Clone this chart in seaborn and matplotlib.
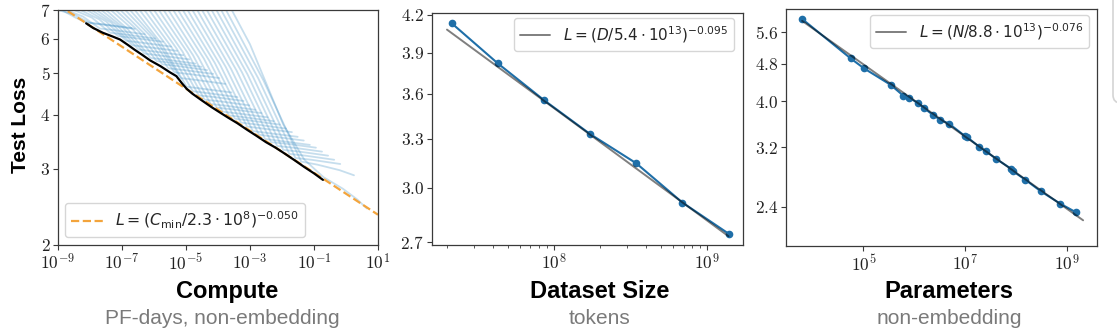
import matplotlib
matplotlib.use("Agg")
import matplotlib.pyplot as plt
import numpy as np
import pandas as pd
import seaborn as sns
from matplotlib.ticker import NullLocator, NullFormatter
from matplotlib.patches import FancyBboxPatch

# ---------------- data ----------------
# Panel 1: learning curves, log10(compute in PF-days) vs test loss
curve_logC = [
    [-9.3, -8.7, -8.45, -8.12, -7.6, -6.7],
    [-9.25, -9.0, -8.5, -8.0, -7.5, -6.6],
    [-9.0, -8.75, -8.22, -7.69, -7.19, -6.29],
    [-8.75, -8.5, -7.94, -7.37, -6.87, -5.97],
    [-8.55, -8.3, -7.71, -7.12, -6.62, -5.72],
    [-8.35, -8.1, -7.49, -6.87, -6.37, -5.47],
    [-8.2, -7.95, -7.32, -6.68, -6.18, -5.28],
    [-8.05, -7.8, -7.15, -6.49, -5.99, -5.09],
    [-7.9, -7.65, -6.98, -6.30, -5.80, -4.90],
    [-7.75, -7.5, -6.81, -6.11, -5.61, -4.71],
    [-7.6, -7.35, -6.64, -5.92, -5.42, -4.52],
    [-7.45, -7.2, -6.47, -5.74, -5.24, -4.34],
    [-7.3, -7.05, -6.30, -5.55, -5.05, -4.15],
    [-7.15, -6.9, -6.13, -5.36, -4.86, -3.96],
    [-7.0, -6.75, -5.96, -5.17, -4.67, -3.77],
    [-6.85, -6.6, -5.79, -4.98, -4.48, -3.58],
    [-6.7, -6.45, -5.62, -4.79, -4.29, -3.39],
    [-6.55, -6.3, -5.45, -4.60, -4.10, -3.20],
    [-6.4, -6.15, -5.28, -4.42, -3.92, -3.02],
    [-6.25, -6.0, -5.11, -4.23, -3.73, -2.83],
    [-6.1, -5.85, -4.94, -4.04, -3.54, -2.64],
    [-5.95, -5.7, -4.78, -3.85, -3.35, -2.45],
    [-5.8, -5.55, -4.61, -3.66, -3.16, -2.26],
    [-5.65, -5.4, -4.44, -3.47, -2.97, -2.07],
    [-5.5, -5.25, -4.27, -3.28, -2.78, -1.88],
    [-5.35, -5.1, -4.10, -3.09, -2.59, -1.69],
    [-5.2, -4.95, -3.93, -2.91, -2.41, -1.51],
    [-5.05, -4.8, -3.76, -2.72, -2.22, -1.32],
    [-4.9, -4.65, -3.59, -2.53, -2.03, -1.13],
    [-4.75, -4.5, -3.42, -2.34, -1.84, -0.94],
    [-4.6, -4.35, -3.25, -2.15, -1.65, -0.75],
    [-4.45, -4.2, -3.08, -1.96, -1.46, -0.56],
    [-4.3, -4.05, -2.91, -1.77, -1.27, -0.37],
    [-4.15, -3.9, -2.74, -1.58, -1.08, -0.18],
    [-4.0, -3.75, -2.58, -1.40, -0.9, -0.2, 0.25],
    [-3.82, -3.57, -3.0, -2.48, -1.96, -1.3, -0.7, -0.1, 0.35, 0.65],
]
curve_loss = [
    [7.3, 6.88, 6.72, 6.55, 6.49, 6.36],
    [7.25, 7.0, 6.83, 6.53, 6.46, 6.33],
    [7.3, 7.0, 6.76, 6.34, 6.28, 6.15],
    [7.4, 7.0, 6.72, 6.20, 6.14, 6.01],
    [7.45, 7.0, 6.66, 6.09, 6.03, 5.91],
    [7.5, 7.0, 6.58, 5.94, 5.88, 5.76],
    [7.5, 7.0, 6.53, 5.80, 5.74, 5.63],
    [7.5, 7.0, 6.46, 5.67, 5.61, 5.50],
    [7.5, 7.0, 6.39, 5.55, 5.49, 5.38],
    [7.5, 7.0, 6.31, 5.42, 5.37, 5.26],
    [7.5, 7.0, 6.29, 5.33, 5.28, 5.17],
    [7.5, 7.0, 6.24, 5.24, 5.19, 5.08],
    [7.5, 7.0, 6.17, 5.13, 5.08, 4.98],
    [7.5, 7.0, 6.11, 5.02, 4.97, 4.87],
    [7.5, 7.0, 6.01, 4.87, 4.82, 4.72],
    [7.5, 7.0, 5.88, 4.65, 4.60, 4.51],
    [7.5, 7.0, 5.81, 4.54, 4.49, 4.40],
    [7.5, 7.0, 5.74, 4.44, 4.40, 4.31],
    [7.5, 7.0, 5.68, 4.34, 4.30, 4.21],
    [7.5, 7.0, 5.61, 4.24, 4.20, 4.11],
    [7.5, 7.0, 5.56, 4.16, 4.12, 4.04],
    [7.5, 7.0, 5.50, 4.07, 4.03, 3.95],
    [7.5, 7.0, 5.44, 3.99, 3.95, 3.87],
    [7.5, 7.0, 5.40, 3.92, 3.88, 3.80],
    [7.5, 7.0, 5.34, 3.84, 3.80, 3.72],
    [7.5, 7.0, 5.28, 3.76, 3.72, 3.65],
    [7.5, 7.0, 5.22, 3.67, 3.63, 3.56],
    [7.5, 7.0, 5.17, 3.60, 3.56, 3.49],
    [7.5, 7.0, 5.11, 3.52, 3.48, 3.41],
    [7.5, 7.0, 5.07, 3.46, 3.43, 3.36],
    [7.5, 7.0, 5.02, 3.39, 3.36, 3.29],
    [7.5, 7.0, 4.97, 3.32, 3.29, 3.22],
    [7.5, 7.0, 4.91, 3.25, 3.22, 3.15],
    [7.5, 7.0, 4.86, 3.18, 3.15, 3.08],
    [7.5, 7.0, 4.81, 3.12, 3.07, 2.98, 2.90],
    [7.5, 7.0, 5.83, 4.71, 3.80, 3.15, 2.87, 2.70, 2.55, 2.43],
]
frontier_logC = [-8.12, -7.9, -7.6, -7.3, -7.06, -6.8, -6.6, -6.35, -6.12, -5.8,
                 -5.5, -5.3, -5.13, -4.98, -4.8, -4.5, -4.2, -4.0, -3.7, -3.4,
                 -3.1, -2.8, -2.5, -2.2, -1.9, -1.6, -1.3, -1.0, -0.72]
frontier_loss = [6.52, 6.36, 6.20, 6.08, 5.98, 5.80, 5.66, 5.50, 5.35, 5.19,
                 5.02, 4.92, 4.74, 4.60, 4.48, 4.32, 4.17, 4.08, 3.95, 3.83,
                 3.70, 3.58, 3.46, 3.36, 3.25, 3.14, 3.03, 2.93, 2.83]
fitC_logC = [-9.0, 1.0]
fitC_loss = [7.2, 2.35]

# Panel 2: dataset size
dataset_tokens = [2.15e7, 4.3e7, 8.6e7, 1.72e8, 3.44e8, 6.88e8, 1.376e9]
dataset_loss = [4.13, 3.82, 3.557, 3.33, 3.146, 2.915, 2.744]
fitD_tokens = [2.0e7, 1.376e9]
fitD_loss = [4.08, 2.73]

# Panel 3: parameters
param_logN = [3.804, 4.753, 5.014, 5.537, 5.784, 5.902, 6.078, 6.190, 6.373, 6.504,
              6.680, 6.994, 7.039, 7.275, 7.406, 7.602, 7.890, 7.941, 8.171, 8.478,
              8.857, 9.165]
param_loss = [5.95, 4.92, 4.69, 4.33, 4.11, 4.07, 3.96, 3.87, 3.74, 3.66,
              3.59, 3.38, 3.36, 3.21, 3.14, 3.03, 2.89, 2.85, 2.74, 2.59,
              2.44, 2.34]
fitN_logN = [3.80, 9.31]
fitN_loss = [5.90, 2.25]

titles = ["Compute", "Dataset Size", "Parameters"]
subtitles = ["PF-days, non-embedding", "tokens", "non-embedding"]
legend_texts = [r"$L = (C_{\rm min}/2.3\cdot 10^{8})^{-0.050}$",
                r"$L = (D/5.4\cdot 10^{13})^{-0.095}$",
                r"$L = (N/8.8\cdot 10^{13})^{-0.076}$"]

# ---------------- style ----------------
sns.set_style("ticks")
plt.rcParams["font.family"] = ["Liberation Sans", "DejaVu Sans"]

BLUE = "#1f6fa8"
SPINE = "#3a3a3a"

fig = plt.figure(figsize=(11.17, 3.35), dpi=100)
ax1 = fig.add_axes([0.0519, 0.2687, 0.2865, 0.7015])
ax2 = fig.add_axes([0.3865, 0.2687, 0.2790, 0.6925])
ax3 = fig.add_axes([0.7037, 0.2666, 0.2781, 0.7056])

for ax in (ax1, ax2, ax3):
    ax.set_xscale("log")
    ax.set_yscale("log")

# ---- panel 1 ----
rows = []
for i, (xs, ys) in enumerate(zip(curve_logC, curve_loss)):
    for x, y in zip(xs, ys):
        rows.append({"curve": i, "C": 10.0 ** x, "loss": y})
df_curves = pd.DataFrame(rows)
sns.lineplot(data=df_curves, x="C", y="loss", units="curve", estimator=None,
             sort=False, color="#2f86c0", alpha=0.27, lw=1.3, ax=ax1)
sns.lineplot(x=[10.0 ** v for v in fitC_logC], y=fitC_loss, color="#f3a43c",
             linestyle="--", lw=1.6, sort=False, ax=ax1)
h_orange = ax1.get_lines()[-1]
sns.lineplot(x=[10.0 ** v for v in frontier_logC], y=frontier_loss, color="black",
             lw=1.6, sort=False, ax=ax1)
ax1.set_xlim(1e-9, 1e1)
ax1.set_ylim(2, 7)
xt = [1e-9, 1e-7, 1e-5, 1e-3, 1e-1, 1e1]
ax1.set_xticks(xt)
ax1.set_xticklabels([r"$10^{-9}$", r"$10^{-7}$", r"$10^{-5}$", r"$10^{-3}$",
                     r"$10^{-1}$", r"$10^{1}$"])
yt = [2, 3, 4, 5, 6, 7]
ax1.set_yticks(yt)
ax1.set_yticklabels([f"${v}$" for v in yt])
ax1.legend([h_orange], [legend_texts[0]], loc="lower left",
           bbox_to_anchor=(0.022, 0.034), borderaxespad=0, fontsize=11.3)

# ---- panel 2 ----
sns.lineplot(x=dataset_tokens, y=dataset_loss, color=BLUE, lw=1.5, marker="o",
             markersize=5.5, markeredgewidth=0, sort=False, ax=ax2)
sns.lineplot(x=fitD_tokens, y=fitD_loss, color="black", alpha=0.5, lw=1.4,
             sort=False, ax=ax2)
h2 = ax2.get_lines()[-1]
ax2.set_xlim(1.59e7, 1.72e9)
ax2.set_ylim(2.684, 4.214)
ax2.set_xticks([1e8, 1e9])
ax2.set_xticklabels([r"$10^{8}$", r"$10^{9}$"])
yt2 = [2.7, 3.0, 3.3, 3.6, 3.9, 4.2]
ax2.set_yticks(yt2)
ax2.set_yticklabels([f"${v:.1f}$" for v in yt2])
ax2.legend([h2], [legend_texts[1]], loc="upper right",
           bbox_to_anchor=(0.970, 0.978), borderaxespad=0, fontsize=11)

# ---- panel 3 ----
sns.lineplot(x=[10.0 ** v for v in param_logN], y=param_loss, color=BLUE, lw=1.5,
             marker="o", markersize=5.5, markeredgewidth=0, sort=False, ax=ax3)
sns.lineplot(x=[10.0 ** v for v in fitN_logN], y=fitN_loss, color="black",
             alpha=0.5, lw=1.4, sort=False, ax=ax3)
h3 = ax3.get_lines()[-1]
ax3.set_xlim(10 ** 3.484, 10 ** 9.576)
ax3.set_ylim(1.99, 6.24)
ax3.set_xticks([1e5, 1e7, 1e9])
ax3.set_xticklabels([r"$10^{5}$", r"$10^{7}$", r"$10^{9}$"])
yt3 = [2.4, 3.2, 4.0, 4.8, 5.6]
ax3.set_yticks(yt3)
ax3.set_yticklabels([f"${v:.1f}$" for v in yt3])
ax3.legend([h3], [legend_texts[2]], loc="upper right",
           bbox_to_anchor=(0.975, 0.976), borderaxespad=0, fontsize=11)

# ---- common axis styling ----
for ax in (ax1, ax2, ax3):
    ax.set_xlabel("")
    ax.set_ylabel("")
    ax.yaxis.set_minor_locator(NullLocator())
    ax.yaxis.set_minor_formatter(NullFormatter())
    ax.xaxis.set_minor_formatter(NullFormatter())
    for s in ax.spines.values():
        s.set_visible(True)
        s.set_color(SPINE)
        s.set_linewidth(0.9)
    ax.tick_params(which="major", direction="out", length=3.5, width=0.8,
                   color=SPINE, labelsize=12.5, labelcolor="#222222", pad=2)
    ax.tick_params(which="minor", direction="out", length=2, width=0.6, color=SPINE)
    for lab in ax.get_xticklabels() + ax.get_yticklabels():
        lab.set_math_fontfamily("cm")
ax1.xaxis.set_minor_locator(NullLocator())
ax3.xaxis.set_minor_locator(NullLocator())

# ---- labels ----
fig.text(0.0185, 0.627, "Test Loss", rotation=90, ha="center", va="center",
         fontsize=15, fontweight="bold", color="black")
title_x = [0.2037, 0.5369, 0.8496]
for x, t, st in zip(title_x, titles, subtitles):
    fig.text(x, 0.1104, t, ha="center", va="baseline", fontsize=17,
             fontweight="bold", color="black")
    fig.text(x - 0.005 if t == "Compute" else x, 0.0328, st, ha="center",
             va="baseline", fontsize=15, color="#7a7a7a")

# screenshot edge at far right
fig.patches.append(FancyBboxPatch((1113, 232), 60, 140,
                                  boxstyle="round,pad=0,rounding_size=8",
                                  transform=None, facecolor="none",
                                  edgecolor="#d4d4d4", lw=1.2))

fig.savefig("out.png", dpi=100)
